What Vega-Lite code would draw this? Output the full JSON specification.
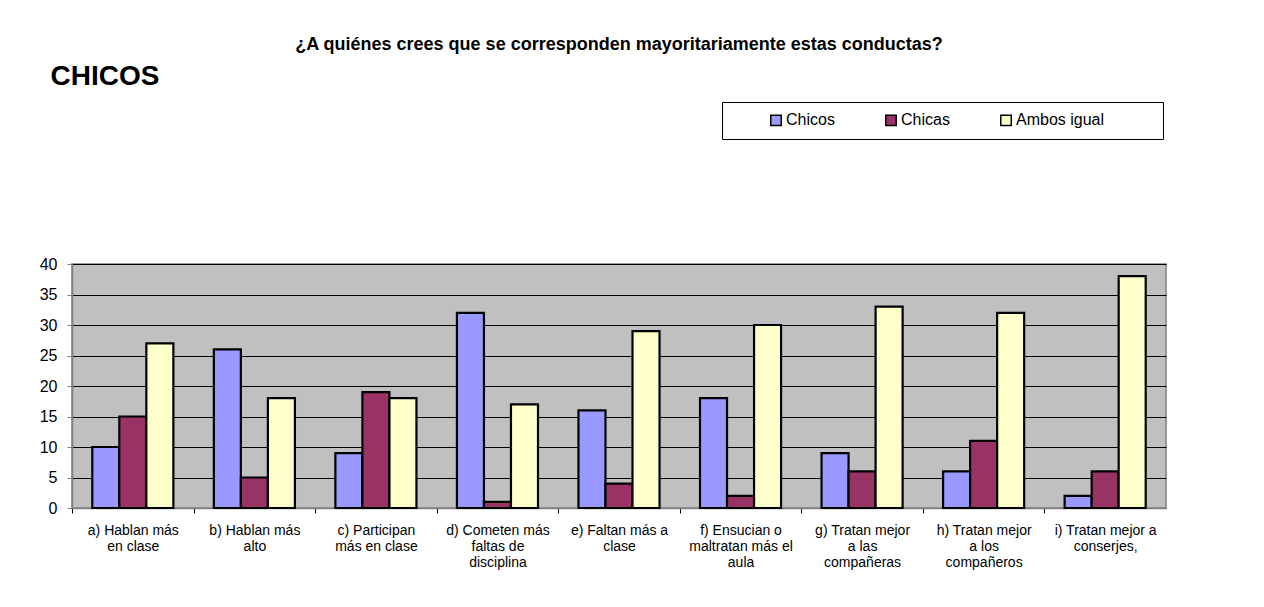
{
  "$schema": "https://vega.github.io/schema/vega-lite/v6.json",
  "autosize": {"type": "none"},
  "padding": {"left": 72, "top": 264, "right": 98, "bottom": 99},
  "width": 1094,
  "height": 244,
  "background": "white",
  "title": {
    "text": "¿A quiénes crees que se corresponden mayoritariamente estas conductas?",
    "anchor": "middle",
    "frame": "group",
    "offset": 8,
    "font": "Liberation Sans",
    "fontSize": 18,
    "fontWeight": "bold",
    "color": "black"
  },
  "config": {
    "font": "Liberation Sans",
    "view": {"fill": "#C0C0C0", "stroke": "#808080", "strokeWidth": 1.5}
  },
  "data": {
    "values": [
      {"conducta": "a) Hablan más en clase", "grupo": "Chicos", "n": 10},
      {"conducta": "a) Hablan más en clase", "grupo": "Chicas", "n": 15},
      {"conducta": "a) Hablan más en clase", "grupo": "Ambos igual", "n": 27},
      {"conducta": "b) Hablan más alto", "grupo": "Chicos", "n": 26},
      {"conducta": "b) Hablan más alto", "grupo": "Chicas", "n": 5},
      {"conducta": "b) Hablan más alto", "grupo": "Ambos igual", "n": 18},
      {"conducta": "c) Participan más en clase", "grupo": "Chicos", "n": 9},
      {"conducta": "c) Participan más en clase", "grupo": "Chicas", "n": 19},
      {"conducta": "c) Participan más en clase", "grupo": "Ambos igual", "n": 18},
      {"conducta": "d) Cometen más faltas de disciplina", "grupo": "Chicos", "n": 32},
      {"conducta": "d) Cometen más faltas de disciplina", "grupo": "Chicas", "n": 1},
      {"conducta": "d) Cometen más faltas de disciplina", "grupo": "Ambos igual", "n": 17},
      {"conducta": "e) Faltan más a clase", "grupo": "Chicos", "n": 16},
      {"conducta": "e) Faltan más a clase", "grupo": "Chicas", "n": 4},
      {"conducta": "e) Faltan más a clase", "grupo": "Ambos igual", "n": 29},
      {"conducta": "f) Ensucian o maltratan más el aula", "grupo": "Chicos", "n": 18},
      {"conducta": "f) Ensucian o maltratan más el aula", "grupo": "Chicas", "n": 2},
      {"conducta": "f) Ensucian o maltratan más el aula", "grupo": "Ambos igual", "n": 30},
      {"conducta": "g) Tratan mejor a las compañeras", "grupo": "Chicos", "n": 9},
      {"conducta": "g) Tratan mejor a las compañeras", "grupo": "Chicas", "n": 6},
      {"conducta": "g) Tratan mejor a las compañeras", "grupo": "Ambos igual", "n": 33},
      {"conducta": "h) Tratan mejor a los compañeros", "grupo": "Chicos", "n": 6},
      {"conducta": "h) Tratan mejor a los compañeros", "grupo": "Chicas", "n": 11},
      {"conducta": "h) Tratan mejor a los compañeros", "grupo": "Ambos igual", "n": 32},
      {"conducta": "i) Tratan mejor a conserjes,", "grupo": "Chicos", "n": 2},
      {"conducta": "i) Tratan mejor a conserjes,", "grupo": "Chicas", "n": 6},
      {"conducta": "i) Tratan mejor a conserjes,", "grupo": "Ambos igual", "n": 38}
    ]
  },
  "mark": {"type": "bar", "stroke": "black", "strokeWidth": 2.2},
  "encoding": {
    "x": {
      "field": "conducta",
      "type": "nominal",
      "sort": null,
      "scale": {"paddingInner": 0.333, "paddingOuter": 0.167},
      "axis": {
        "title": null,
        "labelAngle": 0,
        "labelFontSize": 14,
        "labelColor": "black",
        "labelLineHeight": 16,
        "labelPadding": 10,
        "labelLimit": 200,
        "tickOffset": -60.8,
        "labelOffset": 60.8,
        "tickSize": 5,
        "tickColor": "black",
        "domainColor": "#808080",
        "domainWidth": 1.5,
        "grid": false,
        "labelExpr": "datum.value == 'a) Hablan más en clase' ? ['a) Hablan más','en clase'] : datum.value == 'b) Hablan más alto' ? ['b) Hablan más','alto'] : datum.value == 'c) Participan más en clase' ? ['c) Participan','más en clase'] : datum.value == 'd) Cometen más faltas de disciplina' ? ['d) Cometen más','faltas de','disciplina'] : datum.value == 'e) Faltan más a clase' ? ['e) Faltan más a','clase'] : datum.value == 'f) Ensucian o maltratan más el aula' ? ['f) Ensucian o','maltratan más el','aula'] : datum.value == 'g) Tratan mejor a las compañeras' ? ['g) Tratan mejor','a las','compañeras'] : datum.value == 'h) Tratan mejor a los compañeros' ? ['h) Tratan mejor','a los','compañeros'] : ['i) Tratan mejor a','conserjes,']"
      }
    },
    "xOffset": {
      "field": "grupo",
      "type": "nominal",
      "scale": {"domain": ["Chicos", "Chicas", "Ambos igual"], "paddingInner": 0, "paddingOuter": 0}
    },
    "y": {
      "field": "n",
      "type": "quantitative",
      "scale": {"domain": [0, 40], "nice": false},
      "axis": {
        "title": "CHICOS",
        "titleAngle": 0,
        "titleAlign": "left",
        "titleBaseline": "alphabetic",
        "titleX": -22,
        "titleY": -180,
        "titleFontSize": 28,
        "titleFontWeight": "bold",
        "titleColor": "black",
        "values": [0, 5, 10, 15, 20, 25, 30, 35, 40],
        "labelFontSize": 16,
        "labelColor": "black",
        "labelPadding": 10,
        "tickSize": 5,
        "tickColor": "#808080",
        "domainColor": "#808080",
        "domainWidth": 1.5,
        "grid": true,
        "gridColor": "black",
        "gridWidth": 1,
        "gridOpacity": 1
      }
    },
    "color": {
      "field": "grupo",
      "type": "nominal",
      "scale": {"domain": ["Chicos", "Chicas", "Ambos igual"], "range": ["#9999FF", "#993366", "#FFFFCC"]},
      "legend": {
        "title": "\u00a0",
        "titleOrient": "right",
        "titlePadding": 49,
        "titleFontSize": 16,
        "orient": "none",
        "legendX": 650,
        "legendY": -162,
        "direction": "horizontal",
        "strokeColor": "black",
        "fillColor": "white",
        "padding": 10,
        "symbolType": "square",
        "symbolSize": 110,
        "symbolStrokeColor": "black",
        "symbolStrokeWidth": 1.5,
        "symbolOffset": 36,
        "labelFontSize": 16,
        "labelColor": "black",
        "labelOffset": 2,
        "columnPadding": 12
      }
    }
  }
}
